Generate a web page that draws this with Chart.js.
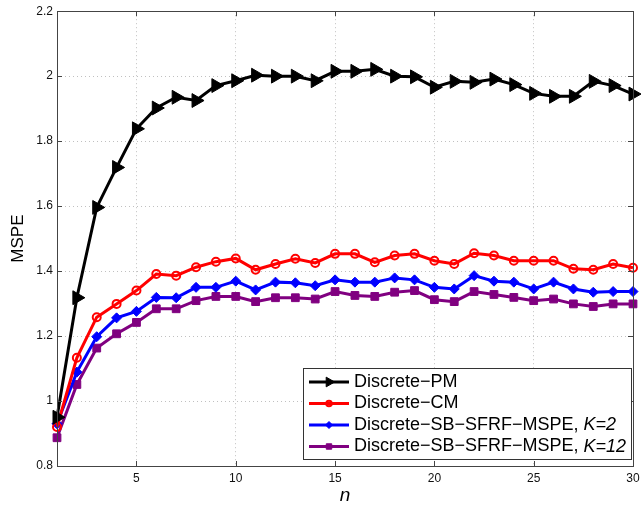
<!DOCTYPE html>
<html>
<head>
<meta charset="utf-8">
<script src="https://cdn.jsdelivr.net/npm/chart.js@4.4.1/dist/chart.umd.min.js"></script>
<style>
  html, body { margin: 0; padding: 0; background: #fff; }
  #wrap { width: 642px; height: 505px; }
</style>
</head>
<body>
<div id="wrap"><canvas id="mspeChart"></canvas></div>
<script>
const nValues = [1, 2, 3, 4, 5, 6, 7, 8, 9, 10, 11, 12, 13, 14, 15,
  16, 17, 18, 19, 20, 21, 22, 23, 24, 25, 26, 27, 28, 29, 30];

const discretePM = [0.95, 1.318, 1.596, 1.719, 1.838, 1.902, 1.935, 1.925, 1.971, 1.986,
  2.003, 2.0, 2.0, 1.986, 2.015, 2.015, 2.021, 2.0, 1.998, 1.966,
  1.984, 1.981, 1.991, 1.974, 1.947, 1.938, 1.938, 1.984, 1.971, 1.945];

const discreteCM = [0.92, 1.133, 1.258, 1.299, 1.340, 1.391, 1.386, 1.412, 1.429, 1.439,
  1.404, 1.422, 1.438, 1.425, 1.453, 1.453, 1.427, 1.448, 1.453, 1.432,
  1.422, 1.455, 1.448, 1.432, 1.432, 1.432, 1.407, 1.404, 1.422, 1.410];

const sbK2 = [0.930, 1.089, 1.198, 1.256, 1.276, 1.319, 1.318, 1.350, 1.350, 1.369,
  1.342, 1.366, 1.364, 1.355, 1.373, 1.366, 1.366, 1.379, 1.373, 1.350,
  1.345, 1.386, 1.369, 1.366, 1.345, 1.366, 1.345, 1.335, 1.337, 1.337];

const sbK12 = [0.887, 1.051, 1.163, 1.207, 1.242, 1.284, 1.284, 1.309, 1.322, 1.322,
  1.306, 1.318, 1.318, 1.314, 1.337, 1.325, 1.322, 1.335, 1.340, 1.312,
  1.306, 1.337, 1.328, 1.319, 1.309, 1.314, 1.299, 1.291, 1.299, 1.299];

const xTicks = [5, 10, 15, 20, 25, 30];
const yTicks = [0.8, 1.0, 1.2, 1.4, 1.6, 1.8, 2.0, 2.2];

// text after '|' is drawn in italics
const seriesNames = ['Discrete\u2212PM', 'Discrete\u2212CM',
  'Discrete\u2212SB\u2212SFRF\u2212MSPE, |K=2', 'Discrete\u2212SB\u2212SFRF\u2212MSPE, |K=12'];

const FONT = 'Liberation Sans, Arial, Helvetica, sans-serif';

function pts(ys) {
  return nValues.map((n, i) => ({ x: n, y: ys[i] }));
}

// box + inward ticks, matlab style
const framePlugin = {
  id: 'frame',
  afterDatasetsDraw(chart) {
    const { ctx, chartArea: a, scales } = chart;
    ctx.save();
    ctx.strokeStyle = '#444';
    ctx.lineWidth = 1;
    ctx.strokeRect(Math.round(a.left) + 0.5, Math.round(a.top) + 0.5,
      Math.round(a.right - a.left), Math.round(a.bottom - a.top));
    ctx.beginPath();
    xTicks.forEach(v => {
      const x = Math.round(scales.x.getPixelForValue(v)) + 0.5;
      ctx.moveTo(x, a.bottom); ctx.lineTo(x, a.bottom - 5);
      ctx.moveTo(x, a.top); ctx.lineTo(x, a.top + 5);
    });
    yTicks.forEach(v => {
      const y = Math.round(scales.y.getPixelForValue(v)) + 0.5;
      ctx.moveTo(a.left, y); ctx.lineTo(a.left + 5, y);
      ctx.moveTo(a.right, y); ctx.lineTo(a.right - 5, y);
    });
    ctx.stroke();
    ctx.restore();
  }
};

// legend box in lower right corner
const boxLegend = {
  id: 'boxLegend',
  afterDraw(chart) {
    const ctx = chart.ctx;
    const left = 303, top = 368, bottom = 459, right = 631;
    ctx.save();
    ctx.fillStyle = '#fff';
    ctx.fillRect(left, top, right - left, bottom - top);
    ctx.strokeStyle = '#333';
    ctx.lineWidth = 1;
    ctx.strokeRect(left + 0.5, top + 0.5, right - left, bottom - top);
    const rows = [382, 403.5, 425, 446.5];
    chart.data.datasets.forEach((ds, i) => {
      const y = rows[i];
      ctx.strokeStyle = ds.borderColor;
      ctx.lineWidth = 3;
      ctx.beginPath();
      ctx.moveTo(309, y); ctx.lineTo(349, y);
      ctx.stroke();
      ctx.fillStyle = ds.pointBackgroundColor;
      ctx.strokeStyle = ds.borderColor;
      ctx.lineWidth = ds.pointBorderWidth;
      Chart.helpers.drawPoint(ctx, {
        pointStyle: ds.pointStyle,
        rotation: ds.pointRotation || 0,
        radius: ds.pointRadius * 0.7,
        borderWidth: ds.pointBorderWidth
      }, 329, y);
      const parts = ds.label.split('|');
      ctx.fillStyle = '#000';
      ctx.textBaseline = 'middle';
      ctx.font = '18px ' + FONT;
      ctx.fillText(parts[0], 354, y);
      if (parts[1]) {
        const w = ctx.measureText(parts[0]).width;
        ctx.font = 'italic 18px ' + FONT;
        ctx.fillText(parts[1], 354 + w, y);
      }
    });
    ctx.restore();
  }
};

const ctx = document.getElementById('mspeChart').getContext('2d');

const chart = new Chart(ctx, {
  type: 'line',
  data: {
    datasets: [{
      label: seriesNames[0],
      data: pts(discretePM),
      borderColor: '#000',
      pointBackgroundColor: '#000',
      pointStyle: 'triangle',
      pointRotation: 90,
      pointRadius: 8,
      pointBorderWidth: 1,
      borderWidth: 3
    }, {
      label: seriesNames[1],
      data: pts(discreteCM),
      borderColor: '#ff0000',
      pointBackgroundColor: 'rgba(0,0,0,0)',
      pointStyle: 'circle',
      pointRadius: 4,
      pointBorderWidth: 2,
      borderWidth: 3
    }, {
      label: seriesNames[2],
      data: pts(sbK2),
      borderColor: '#0000ff',
      pointBackgroundColor: '#0000ff',
      pointStyle: 'rectRot',
      pointRadius: 5,
      pointBorderWidth: 1,
      borderWidth: 3
    }, {
      label: seriesNames[3],
      data: pts(sbK12),
      borderColor: '#800080',
      pointBackgroundColor: '#800080',
      pointStyle: 'rect',
      pointRadius: 5.5,
      pointBorderWidth: 1,
      borderWidth: 3
    }]
  },
  options: {
    responsive: true,
    maintainAspectRatio: false,
    animation: false,
    clip: false,
    layout: { padding: { top: 10, right: 5, left: 0, bottom: 0 } },
    plugins: {
      legend: { display: false },
      tooltip: { enabled: false }
    },
    elements: { line: { tension: 0 } },
    scales: {
      x: {
        type: 'linear',
        min: 1,
        max: 30,
        afterBuildTicks: s => { s.ticks = xTicks.map(v => ({ value: v })); },
        afterFit: s => { s.height = 39; s.paddingLeft = 0; s.paddingRight = 0; },
        grid: { color: '#c0c0c0', drawTicks: false },
        border: { display: false, dash: [1, 3] },
        ticks: { padding: 5, color: '#111', font: { family: FONT, size: 12 } },
        title: {
          display: true,
          text: 'n',
          color: '#000',
          padding: { top: 0, bottom: -2 },
          font: { family: FONT, size: 19, style: 'italic' }
        }
      },
      y: {
        min: 0.8,
        max: 2.2,
        afterBuildTicks: s => { s.ticks = yTicks.map(v => ({ value: v })); },
        afterFit: s => { s.width = 57; },
        grid: { color: '#c0c0c0', drawTicks: false },
        border: { display: false, dash: [1, 3] },
        ticks: {
          padding: 4,
          color: '#111',
          font: { family: FONT, size: 12 },
          callback: v => String(Number(v.toFixed(1)))
        },
        title: {
          display: true,
          text: 'MSPE',
          color: '#000',
          padding: { top: 8, bottom: 0 },
          font: { family: FONT, size: 17 }
        }
      }
    }
  },
  plugins: [framePlugin, boxLegend]
});
</script>
</body>
</html>
